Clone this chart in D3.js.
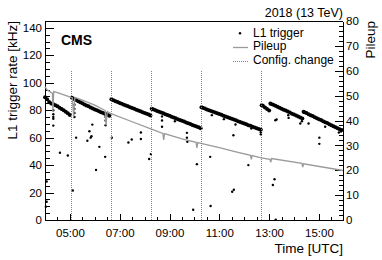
<!DOCTYPE html>
<html>
<head>
<meta charset="utf-8">
<script src="https://cdn.jsdelivr.net/npm/d3@7"></script>
<style>
  body { margin: 0; background: #fff; }
  svg { display: block; font-family: "Liberation Sans", Arial, sans-serif; }
  .axis path, .axis line { stroke: #000; shape-rendering: crispEdges; }
  .axis text { font-size: 11.5px; fill: #000; }
</style>
</head>
<body>
<div id="chart"></div>
<script>
// L1 trigger rate, dense band (5 min sampling)
const rateBand = [
  ["04:00",89.5],["04:05",88],["04:10",86],["04:15",84.8],["04:20",84.3],["04:25",83.6],["04:30",82.8],["04:35",81.8],
  ["04:40",80.8],["04:45",80],["04:50",78.8],["04:55",77.8],["05:00",76.5],
  ["05:05",89],["05:10",88.2],["05:15",87.4],["05:20",86.6],["05:25",85.8],["05:30",85],["05:35",84.2],["05:40",83.5],
  ["05:45",82.8],["05:50",82],["05:55",81.3],["06:00",80.6],["06:05",79.9],["06:10",79.2],["06:15",78.5],["06:20",77.9],
  ["06:25",77.2],["06:30",76.6],["06:35",76],
  ["06:40",88],["06:45",87.3],["06:50",86.6],["06:55",86],["07:00",85.3],["07:05",84.7],["07:10",84],["07:15",83.4],
  ["07:20",82.8],["07:25",82.2],["07:30",81.6],["07:35",81],["07:40",80.4],["07:45",79.8],["07:50",79.2],["07:55",78.6],
  ["08:00",78],["08:05",77.4],["08:10",76.8],["08:14",76.2],
  ["08:17",81],["08:20",80.7],["08:25",80.1],["08:30",79.5],["08:35",78.9],["08:40",78.3],["08:45",77.7],["08:50",77.1],
  ["08:55",76.5],["09:00",75.9],["09:05",75.3],["09:10",74.7],["09:15",74.1],["09:20",73.5],["09:25",72.9],["09:30",72.3],
  ["09:35",71.7],["09:40",71.1],["09:45",70.5],["09:50",69.9],["09:55",69.3],["10:00",68.7],["10:05",68.1],["10:10",67.5],
  ["10:15",66.9],
  ["10:17",82.2],["10:20",81.8],["10:25",81.2],["10:30",80.6],["10:35",80],["10:40",79.5],["10:45",78.9],["10:50",78.3],
  ["10:55",77.7],["11:00",77.2],["11:05",76.6],["11:10",76],["11:15",75.5],["11:20",74.9],["11:25",74.3],["11:30",73.7],
  ["11:35",73.2],["11:40",72.6],["11:45",72],["11:50",71.4],["11:55",70.9],["12:00",70.3],["12:05",69.7],["12:10",69.1],
  ["12:15",68.6],["12:20",68],["12:25",67.4],["12:30",66.8],["12:35",66.3],["12:40",65.7],
  ["12:42",83.6],["12:45",83.3],["12:50",82],["12:55",80.8],["13:00",79.8],
  ["13:03",84.8],["13:05",84.6],["13:10",83.9],["13:15",83.2],["13:20",82.5],["13:25",81.8],["13:30",81.1],["13:35",80.4],
  ["13:40",79.7],["13:45",79],["13:50",78.3],["13:55",77.5],["14:00",76.8],["14:05",76.1],["14:10",75.4],["14:15",74.7],
  ["14:20",74],
  ["14:23",78.8],["14:25",78.6],["14:30",77.9],["14:35",77.1],["14:40",76.4],["14:45",75.7],["14:50",74.9],["14:55",74.2],
  ["15:00",73.5],["15:05",72.8],["15:10",72],["15:15",71.3],["15:20",70.6],["15:25",69.8],["15:30",69.1],["15:35",68.4],
  ["15:40",67.6],["15:45",66.9],["15:50",66.2],["15:55",65.5]
];

// isolated L1 rate points off the band
const rateOutliers = [
  ["04:02",9.7],["04:04",13.3],["04:04",28],["04:20",80],["04:20",77],["04:20",75],["04:20",73.7],["04:20",68.8],
  ["04:36",49],["04:55",47],["05:07",21.5],["05:11",84],["05:11",81],["05:11",78],["05:11",75],["05:15",60],
  ["05:42",57.7],["05:47",64.7],["05:50",60],["05:52",61],["05:54",69.5],["06:03",36.5],["06:11",53.3],["06:25",46],
  ["06:26",78],["06:26",75],["06:26",72.5],["06:26",69],["06:41",60],["07:21",56.5],["07:29",58.7],["07:51",63.8],
  ["07:51",59],["08:11",44.5],["08:15",48],["08:42",75.5],["08:42",72.5],["08:42",68],["09:13",72],["09:42",63.5],
  ["09:42",60],["09:43",57],["09:57",7.5],["10:06",40.7],["10:38",46],["10:39",10.2],["10:42",76.4],["11:11",73.5],
  ["11:31",20.6],["11:34",61.8],["11:35",22],["11:39",69.6],["12:10",40],["12:17",66.7],["12:40",64],["12:40",62.5],
  ["13:09",25.5],["13:13",29.7],["13:15",72.7],["13:16",0.3],["13:18",73.2],["13:46",76.4],["13:47",74.4],["14:15",70.3],
  ["14:19",72],["14:35",70.3],["15:01",60],["15:01",55.5],["15:15",67.9],["15:48",63.8],["15:53",64.5]
];

// pileup (right axis)
const pileup = [
  ["04:00",53.6],["04:05",52.3],["04:15",51.2],["04:18",50.9],["04:19",43.5],["04:21",51.6],["04:30",51.2],
  ["05:03",49.3],["05:06",49.1],["05:09",41.5],["05:12",49.3],["05:30",48.2],["06:00",46.2],["06:25",44],
  ["06:27",38],["06:30",43.6],["06:39",42.8],["07:30",39.5],["08:15",36.6],["08:44",34.8],["08:46",32.2],
  ["08:48",34.7],["09:30",32.6],["10:04",31.2],["10:06",29],["10:08",31.1],["10:16",30.8],["11:00",29.1],
  ["11:40",27.4],["12:15",26],["12:17",24.4],["12:19",25.9],["12:41",25],["13:02",24.4],["13:04",23.2],
  ["13:06",24.7],["14:19",22.8],["14:21",21.3],["14:23",22.6],["15:58",19.9]
];

const configChanges = ["05:03","06:39","08:15","10:16","12:41"];
const configTop = 60; // on the pileup axis

const timeDomain = ["04:00","15:58"];
const timeTicks = ["05:00","07:00","09:00","11:00","13:00","15:00"];
const rateTicks = [0,20,40,60,80,100,120,140];
const puTicks = [0,10,20,30,40,50,60,70,80];

const legendItems = ["L1 trigger","Pileup","Config. change"];

const W = 382, H = 260;
const m = {left: 45, right: 39, top: 21, bottom: 40};
const parse = d3.timeParse("%H:%M");

const svg = d3.select("#chart").append("svg").attr("width", W).attr("height", H);

const x = d3.scaleTime().domain(timeDomain.map(parse)).range([m.left, W - m.right]);
const yRate = d3.scaleLinear().domain([0,145]).range([H - m.bottom, m.top]);
const yPU = d3.scaleLinear().domain([0,80]).range([H - m.bottom, m.top]);

const green = "#1ecc1e";
const grey = "#9a9a9a";

// frame top
svg.append("line").attr("x1", m.left).attr("x2", W - m.right).attr("y1", m.top + 0.5).attr("y2", m.top + 0.5)
  .attr("stroke", "#000");

// minor ticks
svg.append("g").attr("class", "axis").attr("transform", `translate(0,${H - m.bottom})`)
  .call(d3.axisBottom(x).ticks(d3.timeMinute.every(30)).tickSize(-3).tickSizeOuter(0).tickFormat(""));
svg.append("g").attr("class", "axis").attr("transform", `translate(${m.left},0)`)
  .call(d3.axisLeft(yRate).tickValues(d3.range(0,146,5)).tickSize(-4.5).tickSizeOuter(0).tickFormat(""));
svg.append("g").attr("class", "axis").attr("transform", `translate(${W - m.right},0)`)
  .call(d3.axisRight(yPU).tickValues(d3.range(0,81,2)).tickSize(-4).tickSizeOuter(0).tickFormat(""));

// major axes
svg.append("g").attr("class", "axis").attr("transform", `translate(0,${H - m.bottom})`)
  .call(d3.axisBottom(x).tickValues(timeTicks.map(parse)).tickSize(-6).tickSizeOuter(0)
    .tickPadding(9).tickFormat(d3.timeFormat("%H:%M")));
svg.append("g").attr("class", "axis").attr("transform", `translate(${m.left},0)`)
  .call(d3.axisLeft(yRate).tickValues(rateTicks).tickSize(-9).tickSizeOuter(0).tickPadding(3));
svg.append("g").attr("class", "axis").attr("transform", `translate(${W - m.right},0)`)
  .call(d3.axisRight(yPU).tickValues(puTicks).tickSize(-8).tickSizeOuter(0).tickPadding(3));

// titles
svg.append("text").attr("transform", `translate(16.5,${m.top}) rotate(-90)`).attr("text-anchor", "end")
  .attr("font-size", 13.5).text("L1 trigger rate [kHz]");
svg.append("text").attr("transform", `translate(374.5,${m.top}) rotate(-90)`).attr("text-anchor", "end")
  .attr("font-size", 13.5).text("Pileup");
svg.append("text").attr("x", W - m.right).attr("y", 253).attr("text-anchor", "end")
  .attr("font-size", 13.5).text("Time [UTC]");
svg.append("text").attr("x", W - m.right).attr("y", 17).attr("text-anchor", "end")
  .attr("font-size", 12.5).text("2018 (13 TeV)");
svg.append("text").attr("x", 61).attr("y", 45).attr("font-size", 14).attr("font-weight", "bold").text("CMS");

// data
const plot = svg.append("g");
plot.selectAll(".band").data(rateBand).join("circle").attr("class", "band")
  .attr("cx", d => x(parse(d[0]))).attr("cy", d => yRate(d[1])).attr("r", 2).attr("fill", "#000");
plot.selectAll(".out").data(rateOutliers).join("circle").attr("class", "out")
  .attr("cx", d => x(parse(d[0]))).attr("cy", d => yRate(d[1])).attr("r", 1.2).attr("fill", "#000");

plot.append("path").datum(pileup)
  .attr("d", d3.line().x(d => x(parse(d[0]))).y(d => yPU(d[1])))
  .attr("fill", "none").attr("stroke", grey).attr("stroke-width", 1.3);

plot.selectAll(".cfg").data(configChanges).join("line").attr("class", "cfg")
  .attr("x1", d => Math.round(x(parse(d))) + 0.5).attr("x2", d => Math.round(x(parse(d))) + 0.5)
  .attr("y1", Math.round(yPU(configTop))).attr("y2", H - m.bottom)
  .attr("stroke", green).attr("stroke-width", 1).attr("stroke-dasharray", "1,1")
  .attr("shape-rendering", "crispEdges");

// legend
const lg = svg.append("g").attr("font-size", 12);
lg.append("circle").attr("cx", 240).attr("cy", 33.3).attr("r", 1.2).attr("fill", "#000");
lg.append("line").attr("x1", 233).attr("x2", 248).attr("y1", 47.5).attr("y2", 47.5)
  .attr("stroke", grey).attr("stroke-width", 1.3);
lg.append("line").attr("x1", 233).attr("x2", 248).attr("y1", 61.5).attr("y2", 61.5)
  .attr("stroke", green).attr("stroke-dasharray", "1,1").attr("shape-rendering", "crispEdges");
lg.selectAll("text").data(legendItems).join("text")
  .attr("x", 253).attr("y", (d, i) => 36.7 + i * 13.5).text(d => d);
</script>
</body>
</html>
